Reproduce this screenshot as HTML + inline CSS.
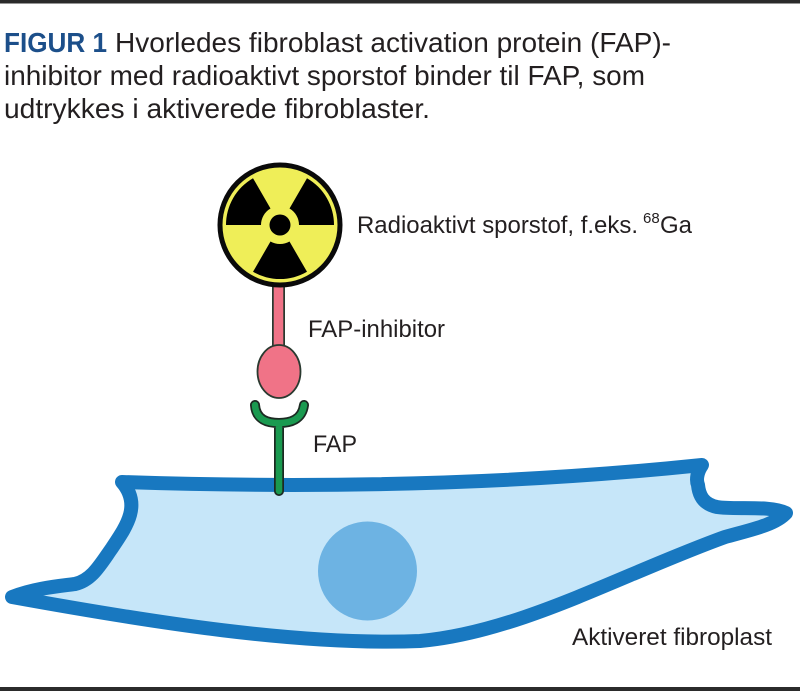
<!DOCTYPE html>
<html>
<head>
<meta charset="utf-8">
<style>
html,body{margin:0;padding:0;background:#fff;}
body{width:800px;height:691px;overflow:hidden;}
svg{display:block;}
text{font-family:"Liberation Sans",Arial,sans-serif;}
</style>
</head>
<body>
<svg width="800" height="691" viewBox="0 0 800 691" xmlns="http://www.w3.org/2000/svg">
  <rect x="0" y="0" width="800" height="691" fill="#ffffff"/>
  <!-- top & bottom rules -->
  <rect x="0" y="0" width="800" height="3.5" fill="#2b2b2b"/>
  <rect x="0" y="687" width="800" height="4" fill="#2b2b2b"/>

  <!-- title -->
  <text x="4" y="52" font-size="28" font-weight="bold" fill="#1c4f8a" textLength="103" lengthAdjust="spacingAndGlyphs">FIGUR 1</text>
  <text x="115" y="52" font-size="28" fill="#231f20" textLength="556" lengthAdjust="spacingAndGlyphs">Hvorledes fibroblast activation protein (FAP)-</text>
  <text x="4" y="85" font-size="28" fill="#231f20" textLength="641" lengthAdjust="spacingAndGlyphs">inhibitor med radioaktivt sporstof binder til FAP, som</text>
  <text x="4" y="118" font-size="28" fill="#231f20" textLength="426" lengthAdjust="spacingAndGlyphs">udtrykkes i aktiverede fibroblaster.</text>

  <!-- cell -->
  <path d="M 122 482
           C 300 488 500 486 702 465
           C 697 472 696 480 698 485
           C 699 495 703 504 717 507
           C 735 510 770 505 786 513
           C 775 525 750 530 725 537
           C 620 575 520 632 420 641
           C 300 646 150 622 12 597
           C 35 588 60 586 75 584
           C 92 580 100 565 112 548
           C 126 527 142 505 122 482 Z"
        fill="#c6e6f9" stroke="#1878c0" stroke-width="14" stroke-linejoin="round"/>
  <circle cx="367.5" cy="571" r="49.5" fill="#6db3e3"/>

  <!-- FAP receptor (green Y) -->
  <g fill="none" stroke-linecap="round" stroke-linejoin="round">
    <path d="M 255 405 C 256 420 268 423 279 423 C 290 423 302 420 304 405 M 279 423 L 279 491" stroke="#1c2a22" stroke-width="10"/>
    <path d="M 255 405 C 256 420 268 423 279 423 C 290 423 302 420 304 405 M 279 423 L 279 491" stroke="#1a9a50" stroke-width="6.5"/>
  </g>

  <!-- FAP inhibitor (pink) -->
  <line x1="278.5" y1="275" x2="278.5" y2="352" stroke="#2a3a30" stroke-width="13" stroke-linecap="round"/>
  <line x1="278.5" y1="275" x2="278.5" y2="355" stroke="#f07387" stroke-width="9.5" stroke-linecap="round"/>
  <ellipse cx="279" cy="371.5" rx="21.5" ry="26.5" fill="#f07387" stroke="#2a3a30" stroke-width="1.8"/>

  <!-- radiation symbol -->
  <circle cx="280" cy="225" r="60" fill="#efee58" stroke="#0a0a0a" stroke-width="5"/>
  <g fill="#000">
    <path d="M299,225 L334,225 A54,54 0 0 0 307,178.2 L289.5,208.5 A19,19 0 0 1 299,225 Z"/>
    <path d="M261,225 L226,225 A54,54 0 0 1 253,178.2 L270.5,208.5 A19,19 0 0 0 261,225 Z"/>
    <path d="M270.5,241.5 L253,271.8 A54,54 0 0 0 307,271.8 L289.5,241.5 A19,19 0 0 1 270.5,241.5 Z"/>
    <circle cx="280" cy="225" r="10.5"/>
  </g>

  <!-- labels -->
  <text x="357" y="233" font-size="24" fill="#231f20" textLength="281" lengthAdjust="spacingAndGlyphs">Radioaktivt sporstof, f.eks.</text>
  <text x="643" y="223" font-size="15" fill="#231f20">68</text>
  <text x="660" y="233" font-size="24" fill="#231f20">Ga</text>

  <text x="308" y="337" font-size="24" fill="#231f20" textLength="137" lengthAdjust="spacingAndGlyphs">FAP-inhibitor</text>
  <text x="313" y="452" font-size="24" fill="#231f20" textLength="44" lengthAdjust="spacingAndGlyphs">FAP</text>
  <text x="572" y="645" font-size="24" fill="#231f20" textLength="200" lengthAdjust="spacingAndGlyphs">Aktiveret fibroplast</text>
</svg>
</body>
</html>
